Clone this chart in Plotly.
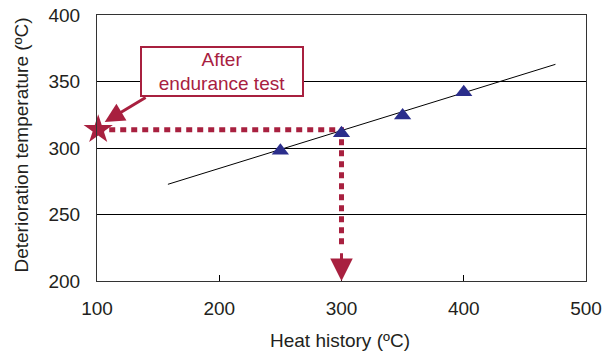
import plotly.graph_objects as go

heat_history = [250, 300, 350, 400]
deterioration = [298, 311, 324.5, 342]
trend_x = [158, 475]
trend_y = [272.7, 362.9]
star_x = [101]
star_y = [313.8]
guide_x = [101, 300, 300]
guide_y = [313.8, 313.8, 226]
xticks = [100, 200, 300, 400, 500]
yticks = [200, 250, 300, 350, 400]
label_text = "After<br>endurance test"
x_title = "Heat history (ºC)"
y_title = "Deterioration temperature (ºC)"

crimson = "#A8203F"
navy = "#2B2E8C"
font_family = "Liberation Sans, Arial, sans-serif"

fig = go.Figure()
fig.add_trace(go.Scatter(x=trend_x, y=trend_y, mode="lines",
                         line=dict(color="black", width=1), showlegend=False))
fig.add_trace(go.Scatter(x=guide_x, y=guide_y, mode="lines",
                         line=dict(color=crimson, width=5, dash="6px,5px"), showlegend=False))
fig.add_trace(go.Scatter(x=heat_history, y=deterioration, mode="markers",
                         marker=dict(symbol="triangle-up", size=15, color=navy), showlegend=False))
fig.add_trace(go.Scatter(x=star_x, y=star_y, mode="markers",
                         marker=dict(symbol="star", size=22, color=crimson), showlegend=False,
                         cliponaxis=False))

# arrow head at bottom of guide
fig.add_annotation(x=300, y=200, ax=300, ay=222, xref="x", yref="y", axref="x", ayref="y",
                   text="", showarrow=True, arrowhead=2, arrowsize=1.5, arrowwidth=3,
                   arrowcolor=crimson)
# label box
fig.add_annotation(x=202.2, y=357.8, xref="x", yref="y", text=label_text,
                   showarrow=False, font=dict(color=crimson, size=19, family=font_family),
                   width=160, height=47, borderpad=0, borderwidth=2,
                   bordercolor=crimson, bgcolor="white")
# arrow from box to star
fig.add_annotation(x=106.3, y=319.5, ax=141, ay=338.6, xref="x", yref="y", axref="x", ayref="y",
                   text="", showarrow=True, arrowhead=2, arrowsize=1.3, arrowwidth=3,
                   arrowcolor=crimson)
# axis titles
fig.add_annotation(x=0.497, y=-0.225, xref="paper", yref="paper", text=x_title,
                   showarrow=False, xanchor="center", yanchor="middle",
                   font=dict(size=19, family=font_family, color="#231F20"))
fig.add_annotation(x=-0.155, y=0.51, xref="paper", yref="paper", text=y_title,
                   showarrow=False, xanchor="center", yanchor="middle", textangle=-90,
                   font=dict(size=19, family=font_family, color="#231F20"))

fig.update_layout(
    width=607, height=353,
    margin=dict(l=97, r=21, t=15, b=72),
    plot_bgcolor="white", paper_bgcolor="white",
    font=dict(family=font_family, size=19, color="#231F20"),
    xaxis=dict(range=[100, 500], tickvals=xticks, ticks="inside", ticklen=6,
               tickcolor="black", showline=True, linecolor="#333", linewidth=1,
               mirror=True, showgrid=False, zeroline=False, ticklabelstandoff=10,
               automargin=False),
    yaxis=dict(range=[200, 400], tickvals=yticks, ticks="inside", ticklen=6,
               tickcolor="black", showline=True, linecolor="#333", linewidth=1,
               mirror=True, showgrid=True, gridcolor="black", gridwidth=1, zeroline=False,
               ticklabelstandoff=12, automargin=False),
)

fig.write_html("out.html")
